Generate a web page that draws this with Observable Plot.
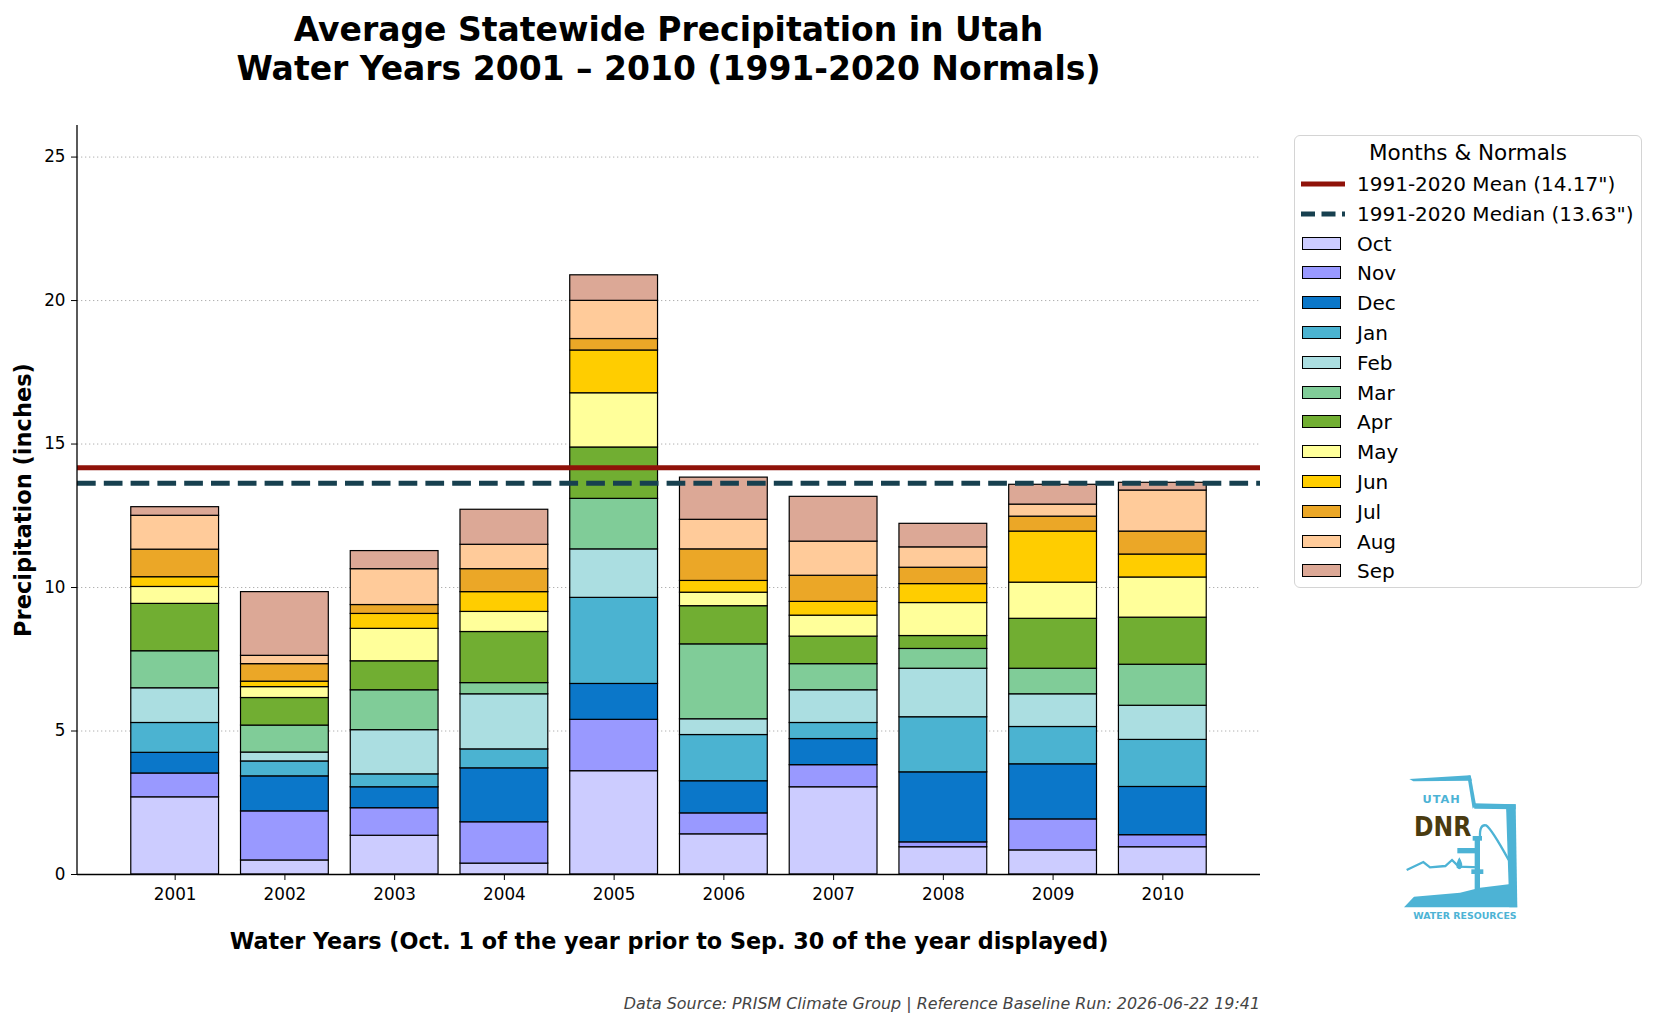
<!DOCTYPE html>
<html>
<head>
<meta charset="utf-8">
<script src="https://cdn.jsdelivr.net/npm/d3@7"></script>
<script src="https://cdn.jsdelivr.net/npm/@observablehq/plot@0.6"></script>
<style>
  html, body { margin: 0; padding: 0; background: #fff; }
  #wrap { position: relative; width: 1657px; height: 1026px; overflow: hidden; font-family: "DejaVu Sans", sans-serif; color: #000; }
  #chart { position: absolute; left: 0; top: 0; }
  #title { position: absolute; left: 0; width: 1337px; top: 10px; text-align: center; font-weight: bold; font-size: 33px; line-height: 39px; }
  #footer { position: absolute; right: 397px; top: 994px; font-style: italic; font-size: 15.9px; color: #444; white-space: nowrap; }
  #legend { position: absolute; left: 1294px; top: 135px; width: 348px; height: 453px; border: 1.5px solid #d4d4d4; border-radius: 6px; box-sizing: border-box; background: #fff; }
  #legend .lt { position: absolute; left: 0; width: 100%; top: 3px; text-align: center; font-size: 21.5px; line-height: 28px; }
  #legend .row { position: absolute; left: 0; height: 28px; width: 100%; }
  #legend .row span { position: absolute; left: 62px; top: 0; font-size: 20px; line-height: 28px; white-space: nowrap; }
  #legend .patch { position: absolute; left: 7px; top: 7px; width: 39px; height: 13px; border: 1.2px solid #000; box-sizing: border-box; }
  #legend svg.ln { position: absolute; left: 5px; top: 0; }
  #logo { position: absolute; left: 1380px; top: 760px; }
</style>
</head>
<body>
<div id="wrap">
  <div id="chart"></div>
  <div id="title">Average Statewide Precipitation in Utah<br>Water Years 2001 – 2010 (1991-2020 Normals)</div>
  <div id="legend"></div>
  <div id="footer">Data Source: PRISM Climate Group | Reference Baseline Run: 2026-06-22 19:41</div>
  <svg id="logo" width="160" height="180" viewBox="0 0 480 540">
    <g fill="#4db3d5">
      <path d="M88,57 L270,46 L276,62 L100,64 Z"/>
      <path d="M262,48 L272,46 L288,134 L278,146 Z"/>
      <path d="M280,130 L407,133 L407,148 L283,146 Z"/>
      <path d="M378,133 L407,133 L412,442 L388,442 Z"/>
      <path d="M72,442 L102,410 L240,398 L300,383 L392,372 L412,442 Z"/>
      <rect x="284" y="238" width="16" height="150"/>
      <rect x="278" y="228" width="28" height="14"/>
      <rect x="232" y="264" width="58" height="16"/>
      <rect x="274" y="328" width="36" height="14"/>
      <path d="M238,292 Q226,312 230,322 Q238,334 246,322 Q250,312 238,292 Z"/>
    </g>
    <polyline points="80,330 130,306 150,322 196,318 216,300 236,320 300,322" fill="none" stroke="#4db3d5" stroke-width="7"/>
    <path d="M300,232 Q298,192 318,196 Q334,206 386,300" fill="none" stroke="#4db3d5" stroke-width="7"/>
    <text x="185" y="128" text-anchor="middle" font-family="DejaVu Sans" font-weight="bold" font-size="34" fill="#4db3d5" letter-spacing="3">UTAH</text>
    <text x="102" y="228" textLength="172" lengthAdjust="spacingAndGlyphs" font-family="DejaVu Sans Condensed, DejaVu Sans" font-weight="bold" font-size="80" fill="#4a3b10">DNR</text>
    <text x="100" y="478" textLength="310" lengthAdjust="spacingAndGlyphs" font-family="DejaVu Sans" font-weight="bold" font-size="26" fill="#4db3d5">WATER RESOURCES</text>
  </svg>
</div>
<script>
// ---- data ----
const years = ["2001", "2002", "2003", "2004", "2005", "2006", "2007", "2008", "2009", "2010"];
const months = ["Oct", "Nov", "Dec", "Jan", "Feb", "Mar", "Apr", "May", "Jun", "Jul", "Aug", "Sep"];
const monthColors = ["#ccccff", "#9999ff", "#0b77c9", "#4bb3d1", "#abdee1", "#80cc98", "#71ae32", "#ffff9a", "#ffcd00", "#eba727", "#ffcb9a", "#dca896"];

const octPrecip = [2.69, 0.49, 1.35, 0.38, 3.60, 1.40, 3.04, 0.95, 0.84, 0.95];
const novPrecip = [0.83, 1.71, 0.96, 1.44, 1.79, 0.73, 0.77, 0.17, 1.08, 0.42];
const decPrecip = [0.72, 1.22, 0.73, 1.88, 1.25, 1.12, 0.91, 2.44, 1.92, 1.68];
const janPrecip = [1.04, 0.52, 0.45, 0.66, 3.00, 1.61, 0.56, 1.92, 1.30, 1.64];
const febPrecip = [1.21, 0.31, 1.54, 1.92, 1.69, 0.55, 1.14, 1.69, 1.14, 1.19];
const marPrecip = [1.29, 0.94, 1.39, 0.39, 1.76, 2.61, 0.91, 0.69, 0.89, 1.43];
const aprPrecip = [1.65, 0.96, 1.01, 1.78, 1.79, 1.33, 0.96, 0.45, 1.74, 1.64];
const mayPrecip = [0.59, 0.38, 1.13, 0.70, 1.89, 0.47, 0.73, 1.15, 1.26, 1.40];
const junPrecip = [0.34, 0.19, 0.52, 0.69, 1.49, 0.41, 0.48, 0.66, 1.78, 0.80];
const julPrecip = [0.96, 0.61, 0.31, 0.80, 0.40, 1.10, 0.91, 0.57, 0.52, 0.80];
const augPrecip = [1.18, 0.29, 1.25, 0.85, 1.33, 1.03, 1.19, 0.71, 0.42, 1.43];
const sepPrecip = [0.30, 2.22, 0.63, 1.22, 0.89, 1.47, 1.56, 0.82, 0.69, 0.27];

const normalMean = 14.17;
const normalMedian = 13.63;
const meanLabel = '1991-2020 Mean (14.17")';
const medianLabel = '1991-2020 Median (13.63")';
const yTicks = [0, 5, 10, 15, 20, 25];
const yMax = 26.1;
const yLabel = "Precipitation (inches)";
const xLabel = "Water Years (Oct. 1 of the year prior to Sep. 30 of the year displayed)";
const legendTitle = "Months & Normals";

// ---- build table ----
const monthSeries = [octPrecip, novPrecip, decPrecip, janPrecip, febPrecip, marPrecip, aprPrecip, mayPrecip, junPrecip, julPrecip, augPrecip, sepPrecip];
const table = [];
years.forEach((yr, i) => {
  months.forEach((m, j) => table.push({year: yr, month: m, value: monthSeries[j][i]}));
});

const spine = (index, scales, values, dims) => {
  return d3.create("svg:line")
    .attr("x1", dims.marginLeft).attr("x2", dims.marginLeft)
    .attr("y1", dims.marginTop).attr("y2", dims.height - dims.marginBottom)
    .attr("stroke", "#000").attr("stroke-width", 1.3)
    .node();
};

const chart = Plot.plot({
  width: 1657,
  height: 960,
  marginLeft: 77,
  marginRight: 397,
  marginTop: 125,
  marginBottom: 86,
  style: {fontFamily: "DejaVu Sans", fontSize: "16.8px", color: "#000", background: "transparent", overflow: "visible"},
  x: {domain: years, paddingInner: 0.2, paddingOuter: 0.49, round: false, label: null},
  y: {domain: [0, yMax], label: null},
  color: {domain: months, range: monthColors},
  marks: [
    Plot.gridY(yTicks, {stroke: "#b0b0b0", strokeOpacity: 1, strokeWidth: 1, strokeDasharray: "1.3,2.7"}),
    Plot.barY(table, {x: "year", y: "value", fill: "month", stroke: "#000", strokeWidth: 1.2}),
    Plot.ruleY([normalMean], {stroke: "#8f1209", strokeWidth: 5}),
    Plot.ruleY([normalMedian], {stroke: "#17404f", strokeWidth: 5, strokeDasharray: "18.7,8.1"}),
    Plot.ruleY([0], {stroke: "#000", strokeWidth: 1.3}),
    spine,
    Plot.axisY(yTicks, {tickSize: 6, tickPadding: 6, fontSize: 16.8, label: null, stroke: "#000"}),
    Plot.axisX({tickSize: 6, tickPadding: 8, fontSize: 16.8, label: null, stroke: "#000"}),
    Plot.text([yLabel], {frameAnchor: "left", textAnchor: "middle", lineAnchor: "middle", rotate: -90, dx: -54, fontWeight: "bold", fontSize: 22.5}),
    Plot.text([xLabel], {frameAnchor: "bottom", textAnchor: "middle", lineAnchor: "middle", dy: 67, fontWeight: "bold", fontSize: 22.3})
  ]
});
document.getElementById("chart").appendChild(chart);

// ---- legend ----
const legend = d3.select("#legend");
legend.append("div").attr("class", "lt").text(legendTitle);
const rowTop = k => 34 + k * 29.8;
const lineRows = [
  {label: meanLabel, color: "#8f1209", dash: null},
  {label: medianLabel, color: "#17404f", dash: "14,6.5"}
];
lineRows.forEach((r, k) => {
  const row = legend.append("div").attr("class", "row").style("top", rowTop(k) + "px");
  const s = row.append("svg").attr("class", "ln").attr("width", 46).attr("height", 28);
  s.append("line").attr("x1", 1).attr("x2", 45).attr("y1", 14).attr("y2", 14)
    .attr("stroke", r.color).attr("stroke-width", 5).attr("stroke-dasharray", r.dash);
  row.append("span").text(r.label);
});
months.forEach((m, j) => {
  const row = legend.append("div").attr("class", "row").style("top", rowTop(j + 2) + "px");
  row.append("div").attr("class", "patch").style("background", monthColors[j]);
  row.append("span").text(m);
});
</script>
</body>
</html>
